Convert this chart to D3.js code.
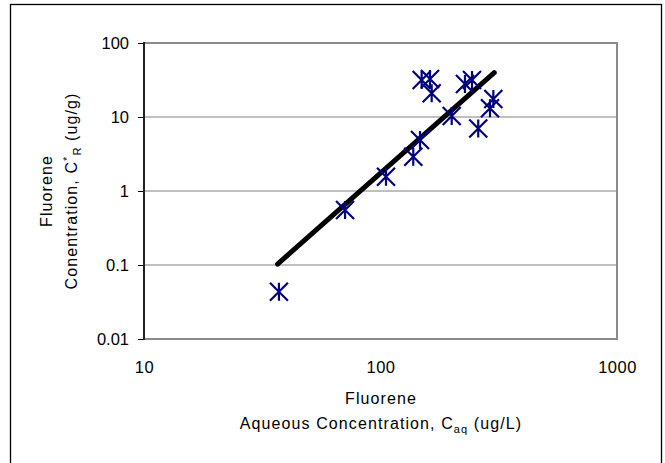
<!DOCTYPE html>
<html>
<head>
<meta charset="utf-8">
<script src="https://cdn.jsdelivr.net/npm/d3@7"></script>
<style>
  html, body { margin: 0; padding: 0; background: #fff; }
  svg { display: block; }
  text { font-family: "Liberation Sans", Arial, sans-serif; }
</style>
</head>
<body>
<svg id="chart" width="665" height="463"></svg>
<script>
// ---- data ----
const aqueousConc = [37.2, 70.8, 105.5, 137.6, 146.9, 200, 149.3, 161.9, 164.6, 227.6, 243.7, 259, 300, 290.4];
const sorbedConc  = [0.0436, 0.553, 1.56, 2.91, 4.9, 10.3, 31.6, 32.6, 20.9, 27.9, 31.6, 7.0, 17.5, 13.1];
const trendX = [36.7, 302.7];
const trendY = [0.103, 39.7];
const xTickValues = [10, 100, 1000];
const xTickLabels = ["10", "100", "1000"];
const yTickValues = [0.01, 0.1, 1, 10, 100];
const yTickLabels = ["0.01", "0.1", "1", "10", "100"];
const yGridValues = [0.1, 1, 10];

// ---- layout ----
const svg = d3.select("#chart");
const L = 144, R = 617, T = 43, B = 339;

const x = d3.scaleLog().domain([10, 1000]).range([L, R]);
const y = d3.scaleLog().domain([0.01, 100]).range([B, T]);

// outer border
svg.append("rect")
  .attr("x", 10.5).attr("y", 4.5).attr("width", 651).attr("height", 470)
  .attr("fill", "none").attr("stroke", "#000").attr("stroke-width", 1.3);

// gridlines
svg.append("g").selectAll("line").data(yGridValues).join("line")
  .attr("x1", L).attr("x2", R)
  .attr("y1", d => y(d)).attr("y2", d => y(d))
  .attr("stroke", "#808080").attr("stroke-width", 1);

// plot border (top, right, bottom) gray
svg.append("path")
  .attr("d", `M${L},${T}H${R}V${B}H${L}`)
  .attr("fill", "none").attr("stroke", "#8c8c8c").attr("stroke-width", 2);

// y axis
const yAxis = d3.axisLeft(y)
  .tickValues(yTickValues)
  .tickFormat((d, i) => yTickLabels[i])
  .tickSize(6).tickPadding(9);
const gy = svg.append("g").attr("transform", `translate(${L},0)`).call(yAxis);
gy.select(".domain").remove();
gy.selectAll(".tick line").attr("stroke", "#000");
gy.selectAll(".tick text").attr("font-size", 16.5).attr("fill", "#000")
  .attr("font-family", "'Liberation Sans', Arial, sans-serif");
svg.append("line").attr("x1", L).attr("x2", L).attr("y1", T - 1).attr("y2", B + 1)
  .attr("stroke", "#222").attr("stroke-width", 2);

// x axis
const xAxis = d3.axisBottom(x)
  .tickValues(xTickValues)
  .tickFormat((d, i) => xTickLabels[i])
  .tickSize(0).tickPadding(22.5);
const gx = svg.append("g").attr("transform", `translate(0,${B})`).call(xAxis);
gx.select(".domain").remove();
gx.selectAll(".tick text").attr("font-size", 16.5).attr("fill", "#000")
  .attr("font-family", "'Liberation Sans', Arial, sans-serif")
  .attr("letter-spacing", 0.5);

// trend line
svg.append("line")
  .attr("x1", x(trendX[0])).attr("y1", y(trendY[0]))
  .attr("x2", x(trendX[1])).attr("y2", y(trendY[1]))
  .attr("stroke", "#000").attr("stroke-width", 5).attr("stroke-linecap", "round");

// markers (asterisk: vertical + two diagonals)
const h = 9;
const pts = aqueousConc.map((v, i) => [x(v), y(sorbedConc[i])]);
svg.append("g").selectAll("path").data(pts).join("path")
  .attr("d", d => `M${d[0]},${d[1]-h}V${d[1]+h}M${d[0]-h},${d[1]-h}L${d[0]+h},${d[1]+h}M${d[0]-h},${d[1]+h}L${d[0]+h},${d[1]-h}`)
  .attr("fill", "none").attr("stroke", "#000080").attr("stroke-width", 2.2);

// x title
const LS = 1.1;
svg.append("text").attr("text-anchor", "middle").attr("font-size", 16).attr("fill", "#000")
  .attr("letter-spacing", LS).attr("x", 381).attr("y", 404).text("Fluorene");
const xt2 = svg.append("text").attr("text-anchor", "middle").attr("font-size", 16).attr("fill", "#000")
  .attr("letter-spacing", LS).attr("x", 381).attr("y", 429);
xt2.append("tspan").text("Aqueous Concentration, C");
xt2.append("tspan").attr("font-size", 11).attr("dy", 4).text("aq");
xt2.append("tspan").attr("dy", -4).text(" (ug/L)");

// y title
svg.append("text").attr("text-anchor", "middle").attr("font-size", 16).attr("fill", "#000")
  .attr("letter-spacing", LS)
  .attr("transform", "translate(52,191) rotate(-90)").text("Fluorene");
const yt2 = svg.append("text").attr("text-anchor", "middle").attr("font-size", 16).attr("fill", "#000")
  .attr("letter-spacing", LS)
  .attr("transform", "translate(77,191) rotate(-90)");
yt2.append("tspan").text("Conentration, C");
yt2.append("tspan").attr("font-size", 11).attr("dy", -6).text("*");
yt2.append("tspan").attr("font-size", 11).attr("dy", 10).text("R");
yt2.append("tspan").attr("dy", -4).text(" (ug/g)");
</script>
</body>
</html>
